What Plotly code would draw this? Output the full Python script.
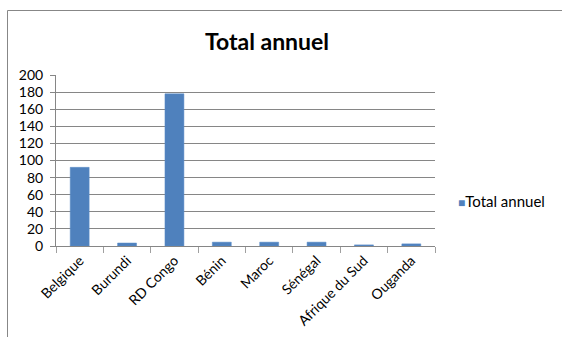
import plotly.graph_objects as go

categories = ["Belgique", "Burundi", "RD Congo", "Bénin", "Maroc", "Sénégal", "Afrique du Sud", "Ouganda"]
values = [92, 3.5, 178, 4.5, 4.5, 4.5, 1.3, 2.5]
series_name = "Total annuel"
y_ticks = [0, 20, 40, 60, 80, 100, 120, 140, 160, 180, 200]
bar_color = "#4F81BD"

W, H = 562, 337
L, R, T, B = 56, 127, 75, 91

fig = go.Figure(go.Bar(
    x=categories, y=values, name=series_name,
    marker=dict(color=bar_color, line=dict(color="#5B8CC8", width=0.5)),
    showlegend=False,
))

pw = W - L - R
ph = H - T - B

def px_x(p):
    return (p - L) / pw

def px_y(p):
    return (H - B - p) / ph

fig.update_layout(
    width=W, height=H,
    margin=dict(l=L, r=R, t=T, b=B, autoexpand=False),
    paper_bgcolor="white", plot_bgcolor="white",
    font=dict(family="Lato, Liberation Sans, sans-serif", size=14, color="#000000"),
    title=dict(text="<b>Total annuel</b>", x=267 / W, xanchor="center",
               y=1 - 42 / H, yanchor="middle", xref="container", yref="container",
               font=dict(size=23, family="Lato, Liberation Sans, sans-serif", color="#000")),
    bargap=0.6,
    xaxis=dict(showgrid=False, showline=True, linecolor="#868686", linewidth=1,
               ticks="outside", tickson="boundaries", ticklen=6, tickcolor="#A0A0A0",
               tickangle=-45, tickfont=dict(size=14)),
    yaxis=dict(range=[0, 200], tickvals=y_ticks, showgrid=True, gridcolor="#868686",
               gridwidth=1, showline=True, linecolor="#868686", linewidth=1,
               ticks="outside", ticklen=5, tickcolor="#868686", zeroline=False,
               ticklabelstandoff=4, tickfont=dict(size=14)),
    annotations=[
        dict(xref="paper", yref="paper", x=px_x(456), y=px_y(201),
             xanchor="left", yanchor="middle", showarrow=False,
             text=f"<span style='color:{bar_color};font-size:12px'>■</span>{series_name}",
             font=dict(size=15, family="Lato, Liberation Sans, sans-serif", color="#000")),
    ],
    shapes=[dict(type="rect", xref="paper", yref="paper",
                 x0=px_x(7.5), x1=px_x(W + 20), y0=px_y(H + 20), y1=px_y(10.5),
                 line=dict(color="#878787", width=1), layer="below")],
)

fig.write_html("out.html")
